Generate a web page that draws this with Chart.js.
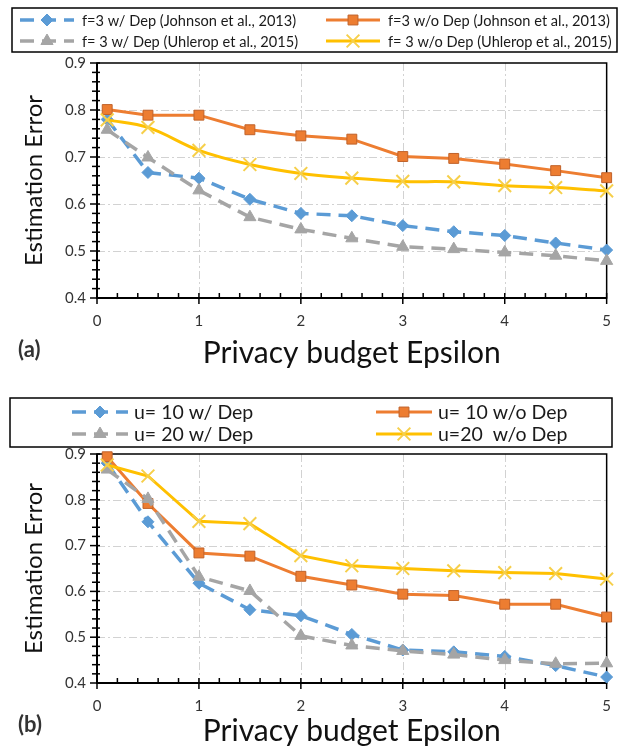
<!DOCTYPE html>
<html>
<head>
<meta charset="utf-8">
<script src="https://cdn.jsdelivr.net/npm/chart.js@4/dist/chart.umd.min.js"></script>
<style>
  body { margin: 0; background: #fff; }
  canvas { display: block; }
</style>
</head>
<body>
<canvas id="chartA" width="625" height="383" style="width:625px;height:383px"></canvas>
<canvas id="chartB" width="625" height="370" style="width:625px;height:370px"></canvas>
<script>
// epsilon values shared by both panels
const epsilons = [0.1, 0.5, 1, 1.5, 2, 2.5, 3, 3.5, 4, 4.5, 5];
const xTicks = [0, 1, 2, 3, 4, 5];
const yTicks = [0.4, 0.5, 0.6, 0.7, 0.8, 0.9];

// panel (a): f = 3
const labelsA = [
  'f=3 w/ Dep (Johnson et al., 2013)',
  'f=3 w/o Dep (Johnson et al., 2013)',
  'f= 3 w/ Dep (Uhlerop et al., 2015)',
  'f= 3 w/o Dep (Uhlerop et al., 2015)'
];
const johnsonDep = [0.78, 0.667, 0.655, 0.61, 0.58, 0.575, 0.554, 0.541, 0.533, 0.517, 0.502];
const johnsonNoDep = [0.801, 0.789, 0.789, 0.758, 0.745, 0.738, 0.701, 0.697, 0.685, 0.671, 0.656];
const uhleropDep = [0.758, 0.699, 0.629, 0.572, 0.546, 0.527, 0.509, 0.504, 0.497, 0.49, 0.479];
const uhleropNoDep = [0.779, 0.763, 0.714, 0.684, 0.665, 0.655, 0.648, 0.647, 0.639, 0.635, 0.628];

// panel (b): u = 10 / 20
const labelsB = ['u= 10 w/ Dep', 'u= 10 w/o Dep', 'u= 20 w/ Dep', 'u=20  w/o Dep'];
const u10Dep = [0.88, 0.752, 0.618, 0.56, 0.547, 0.506, 0.472, 0.468, 0.458, 0.438, 0.413];
const u10NoDep = [0.894, 0.792, 0.684, 0.677, 0.633, 0.614, 0.594, 0.591, 0.572, 0.572, 0.544];
const u20Dep = [0.866, 0.802, 0.632, 0.601, 0.503, 0.482, 0.47, 0.462, 0.45, 0.442, 0.443];
const u20NoDep = [0.876, 0.852, 0.753, 0.748, 0.678, 0.656, 0.65, 0.645, 0.641, 0.639, 0.627];

const FONT = 'Lato, "Open Sans", sans-serif';
const BLUE = '#5b9bd5', ORANGE = '#ed7d31', GRAY = '#a5a5a5', YELLOW = '#ffc000';

function drawMarker(ctx, style, x, y, r, fill, stroke, lw) {
  ctx.save();
  ctx.setLineDash([]);
  ctx.fillStyle = fill;
  ctx.strokeStyle = stroke;
  ctx.lineWidth = lw;
  ctx.beginPath();
  if (style === 'rect') {
    const s = r * Math.SQRT1_2;
    ctx.rect(x - s, y - s, 2 * s, 2 * s);
    ctx.fill(); ctx.stroke();
  } else if (style === 'rectRot') {
    ctx.moveTo(x, y - r); ctx.lineTo(x + r, y); ctx.lineTo(x, y + r); ctx.lineTo(x - r, y);
    ctx.closePath(); ctx.fill(); ctx.stroke();
  } else if (style === 'triangle') {
    ctx.moveTo(x, y - r); ctx.lineTo(x + r * 0.87, y + r * 0.5); ctx.lineTo(x - r * 0.87, y + r * 0.5);
    ctx.closePath(); ctx.fill(); ctx.stroke();
  } else if (style === 'crossRot') {
    const s = r * Math.SQRT1_2;
    ctx.moveTo(x - s, y - s); ctx.lineTo(x + s, y + s);
    ctx.moveTo(x + s, y - s); ctx.lineTo(x - s, y + s);
    ctx.stroke();
  }
  ctx.restore();
}

// gridlines, axis frame and minor tick marks
const framePlugin = {
  id: 'frame',
  beforeDatasetsDraw(chart) {
    const { ctx, chartArea: a, scales: { x, y } } = chart;
    ctx.save();
    ctx.strokeStyle = '#d2d2d2';
    ctx.lineWidth = 1;
    ctx.setLineDash([8, 3, 2, 3]);
    [1, 2, 3, 4].forEach(v => {
      const px = Math.round(x.getPixelForValue(v)) + 0.5;
      ctx.beginPath(); ctx.moveTo(px, a.top); ctx.lineTo(px, a.bottom); ctx.stroke();
    });
    [0.5, 0.6, 0.7, 0.8].forEach(v => {
      const py = Math.round(y.getPixelForValue(v)) + 0.5;
      ctx.beginPath(); ctx.moveTo(a.left, py); ctx.lineTo(a.right, py); ctx.stroke();
    });
    ctx.setLineDash([]);
    ctx.strokeStyle = '#000';
    ctx.lineWidth = 1.5;
    ctx.strokeRect(a.left, a.top, a.right - a.left, a.bottom - a.top);
    ctx.lineWidth = 2;
    ctx.beginPath();
    ctx.moveTo(a.left, a.top); ctx.lineTo(a.left, a.bottom); ctx.lineTo(a.right, a.bottom);
    ctx.stroke();
    ctx.lineWidth = 1.5;
    for (let i = 0; i <= 25; i++) {
      const px = x.getPixelForValue(i * 0.2);
      const major = i % 5 === 0;
      ctx.beginPath(); ctx.moveTo(px, a.bottom - 5); ctx.lineTo(px, a.bottom + (major ? 6 : 0)); ctx.stroke();
    }
    for (let i = 0; i <= 25; i++) {
      const py = y.getPixelForValue(0.4 + i * 0.02);
      const major = i % 5 === 0;
      ctx.beginPath(); ctx.moveTo(a.left - (major ? 7 : 5), py); ctx.lineTo(a.left + 3, py); ctx.stroke();
    }
    ctx.restore();
  },
  afterDraw(chart) {
    const o = chart.options.plugins.frame;
    const ctx = chart.ctx;
    ctx.save();
    // panel tag
    ctx.fillStyle = '#333';
    ctx.font = 'bold 22px ' + FONT;
    ctx.textBaseline = 'middle';
    ctx.fillText(o.tag, o.tagX, o.tagY);
    // legend box
    const L = o.legend;
    ctx.strokeStyle = '#000';
    ctx.lineWidth = 1.5;
    ctx.strokeRect(L.box[0], L.box[1], L.box[2] - L.box[0], L.box[3] - L.box[1]);
    ctx.font = L.fontSize + 'px ' + FONT;
    chart.data.datasets.forEach((ds, i) => {
      const col = i % 2, row = Math.floor(i / 2);
      const x0 = L.cols[col], yy = L.rows[row];
      const x1 = x0 + L.sample;
      ctx.strokeStyle = ds.borderColor;
      ctx.lineWidth = ds.borderWidth;
      ctx.setLineDash(ds.borderDash || []);
      ctx.beginPath(); ctx.moveTo(x0, yy); ctx.lineTo(x1, yy); ctx.stroke();
      drawMarker(ctx, ds.pointStyle, (x0 + x1) / 2, yy, ds.pointRadius,
        ds.pointBackgroundColor, ds.pointBorderColor, ds.pointBorderWidth);
      ctx.fillStyle = '#1a1a1a';
      ctx.fillText(ds.label, x1 + L.gap, yy + 1);
    });
    ctx.restore();
  }
};

function series(label, values, color, style, dashed, extra) {
  return Object.assign({
    label: label,
    data: values.map((v, i) => ({ x: epsilons[i], y: v })),
    borderColor: color,
    borderWidth: 3.5,
    borderDash: dashed ? [14, 8] : [],
    pointStyle: style,
    pointRadius: 6,
    pointBackgroundColor: color,
    pointBorderColor: color,
    pointBorderWidth: 1,
    tension: 0,
    clip: false
  }, extra || {});
}

function makeChart(id, height, plotTop, plotBottom, titleBottom, datasets, frameOpts) {
  return new Chart(document.getElementById(id), {
    type: 'line',
    data: { datasets: datasets },
    plugins: [framePlugin],
    options: {
      responsive: false,
      animation: false,
      layout: { padding: { top: plotTop, right: 18, left: 0, bottom: 0 } },
      plugins: { legend: { display: false }, tooltip: { enabled: false }, frame: frameOpts },
      scales: {
        x: {
          type: 'linear', min: 0, max: 5,
          grid: { display: false, drawTicks: false },
          border: { display: false },
          afterFit: s => { s.height = height - plotBottom; },
          afterBuildTicks: s => { s.ticks = xTicks.map(v => ({ value: v })); },
          ticks: { autoSkip: false, maxRotation: 0, padding: 14, color: '#333',
                   font: { family: FONT, size: 15 }, callback: v => String(v) },
          title: { display: true, text: 'Privacy budget Epsilon', color: '#111',
                   font: { family: FONT, size: 30 }, padding: { top: 0, bottom: titleBottom } }
        },
        y: {
          type: 'linear', min: 0.4, max: 0.9,
          grid: { display: false, drawTicks: false },
          border: { display: false },
          afterFit: s => { s.width = 97; },
          afterBuildTicks: s => { s.ticks = yTicks.map(v => ({ value: v })); },
          ticks: { padding: 11, color: '#333', font: { family: FONT, size: 15 },
                   callback: v => v.toFixed(1) },
          title: { display: true, text: 'Estimation Error', color: '#111',
                   font: { family: FONT, size: 24 }, padding: { top: 20, bottom: 0 } }
        }
      }
    }
  });
}

makeChart('chartA', 383, 63, 298, 12, [
  series(labelsA[0], johnsonDep, BLUE, 'rectRot', true, { order: 4 }),
  series(labelsA[1], johnsonNoDep, ORANGE, 'rect', false,
    { order: 3, pointRadius: 7, borderWidth: 3, pointBorderColor: '#c0622a' }),
  series(labelsA[2], uhleropDep, GRAY, 'triangle', true, { order: 2, pointRadius: 7 }),
  series(labelsA[3], uhleropNoDep, YELLOW, 'crossRot', false,
    { order: 1, pointRadius: 9, borderWidth: 3, pointBorderWidth: 2, pointBorderColor: '#f6cf4a', tension: 0.35 })
], {
  tag: '(a)', tagX: 18, tagY: 350,
  legend: { box: [12, 8, 617, 52], rows: [20, 41], cols: [20, 326], sample: 54, gap: 8, fontSize: 14.6 }
});

makeChart('chartB', 370, 71, 300, 4, [
  series(labelsB[0], u10Dep, BLUE, 'rectRot', true, { order: 4 }),
  series(labelsB[1], u10NoDep, ORANGE, 'rect', false,
    { order: 3, pointRadius: 7, borderWidth: 3, pointBorderColor: '#c0622a' }),
  series(labelsB[2], u20Dep, GRAY, 'triangle', true, { order: 2, pointRadius: 7 }),
  series(labelsB[3], u20NoDep, YELLOW, 'crossRot', false,
    { order: 1, pointRadius: 9, borderWidth: 3, pointBorderWidth: 2, pointBorderColor: '#f6cf4a' })
], {
  tag: '(b)', tagX: 18, tagY: 342,
  legend: { box: [10, 15, 612, 64], rows: [29, 51], cols: [72, 376], sample: 56, gap: 6, fontSize: 19.5 }
});
</script>
</body>
</html>
